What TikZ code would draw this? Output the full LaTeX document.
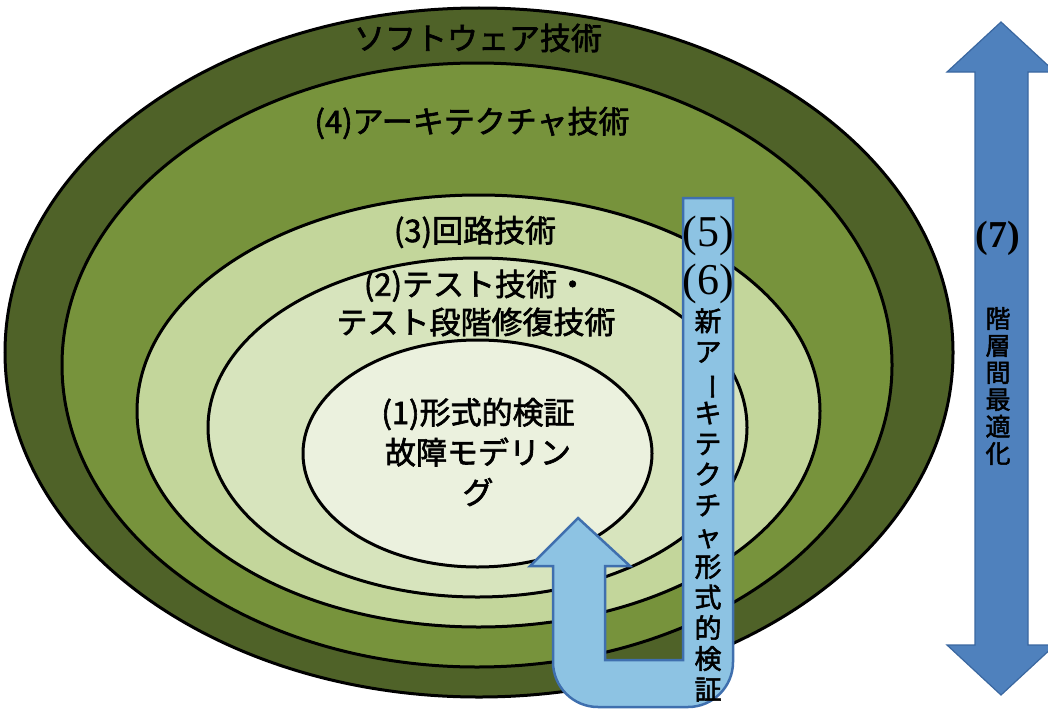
\documentclass[tikz,border=0pt]{standalone}
\usepackage{fontspec}
\usepackage{graphicx}
\usetikzlibrary{shapes.geometric}
\newfontfamily\jp[AutoFakeBold=2]{Noto Sans CJK JP}
\newfontfamily\numf{Liberation Serif}
\definecolor{swc}{HTML}{4F6228}
\definecolor{arcc}{HTML}{77933C}
\definecolor{ckt}{HTML}{C3D69B}
\definecolor{tst}{HTML}{D7E4BD}
\definecolor{fml}{HTML}{EBF1DE}
\definecolor{ubl}{HTML}{8DC3E3}
\definecolor{ubd}{HTML}{3F6FAE}
\definecolor{dbl}{HTML}{4F81BD}
\definecolor{dbd}{HTML}{3A67A0}
\tikzset{
  ring/.style={ellipse, draw=black, line width=3pt, inner sep=0pt},
  lbl/.style={font=\jp\bfseries\fontsize{31}{38}\selectfont, inner sep=0pt, text=black},
  numlbl/.style={font=\numf\fontsize{44}{46}\selectfont, inner sep=0pt, text=black},
  vtext/.style={font=\jp\bfseries\fontsize{27}{30.7}\selectfont, align=center, inner sep=0pt, text=black},
  uarrow/.style={fill=ubl, draw=ubd, line width=2.5pt, line join=miter},
  darrow/.style={fill=dbl, draw=dbd, line width=1.2pt, line join=miter}
}
\begin{document}
\begin{tikzpicture}[x=1pt,y=-1pt]
\useasboundingbox (0,0) rectangle (1048,709);
% rings
\node[ring, fill=swc, minimum width=948pt, minimum height=689pt] (sw) at (479,352.5) {};
\node[ring, fill=arcc, minimum width=830pt, minimum height=604pt] (ar) at (477,365) {};
\node[ring, fill=ckt, minimum width=683pt, minimum height=432pt] (ck) at (478.5,411) {};
\node[ring, fill=tst, minimum width=539pt, minimum height=339pt] (ts) at (477.5,427.5) {};
\node[ring, fill=fml, minimum width=349pt, minimum height=227pt] (fm) at (477.5,453.5) {};
% labels
\node[lbl] (tsw) at (478,38) {ソフトウェア技術};
\node[lbl] (tar) at (472,123) {(4)アーキテクチャ技術};
\node[lbl] (tck) at (475,232) {(3)回路技術};
\node[lbl, align=center] (tts) at (476,303) {(2)テスト技術・\\テスト段階修復技術};
\node[lbl, align=center, font=\jp\bfseries\fontsize{31}{40}\selectfont] (tfm) at (478,452) {(1)形式的検証\\故障モデリン\\グ};
% U-turn arrow
\coordinate (utop) at (733,198);
\draw[uarrow] (683,198) -- (utop) -- (733,662) arc[start angle=0, end angle=90, radius=45] -- (598,707) arc[start angle=90, end angle=180, radius=45] -- (553,566) -- (530,566) -- (578,518) -- (630,566) -- (605,566) -- (605,660) -- (683,660) -- cycle;
\node[numlbl] (n5) at (708,236) {(5)};
\node[numlbl] (n6) at (708,284) {(6)};
\node[vtext] (vnew) at (708,505) {新\\ア\\\rotatebox[origin=c]{-90}{ー}\\キ\\テ\\ク\\チ\\ャ\\形\\式\\的\\検\\証};
% double arrow
\draw[darrow] (1001,22) -- (1055,72) -- (1028,72) -- (1028,645) -- (1055,645) -- (1001,695) -- (947,645) -- (975,645) -- (975,72) -- (947,72) -- cycle;
\node[font=\numf\bfseries\fontsize{38}{40}\selectfont, inner sep=0pt] (n7) at (998,238) {(7)};
\node[vtext, font=\jp\bfseries\fontsize{25}{27}\selectfont] (vopt) at (998,386) {階\\層\\間\\最\\適\\化};
\end{tikzpicture}
\end{document}
